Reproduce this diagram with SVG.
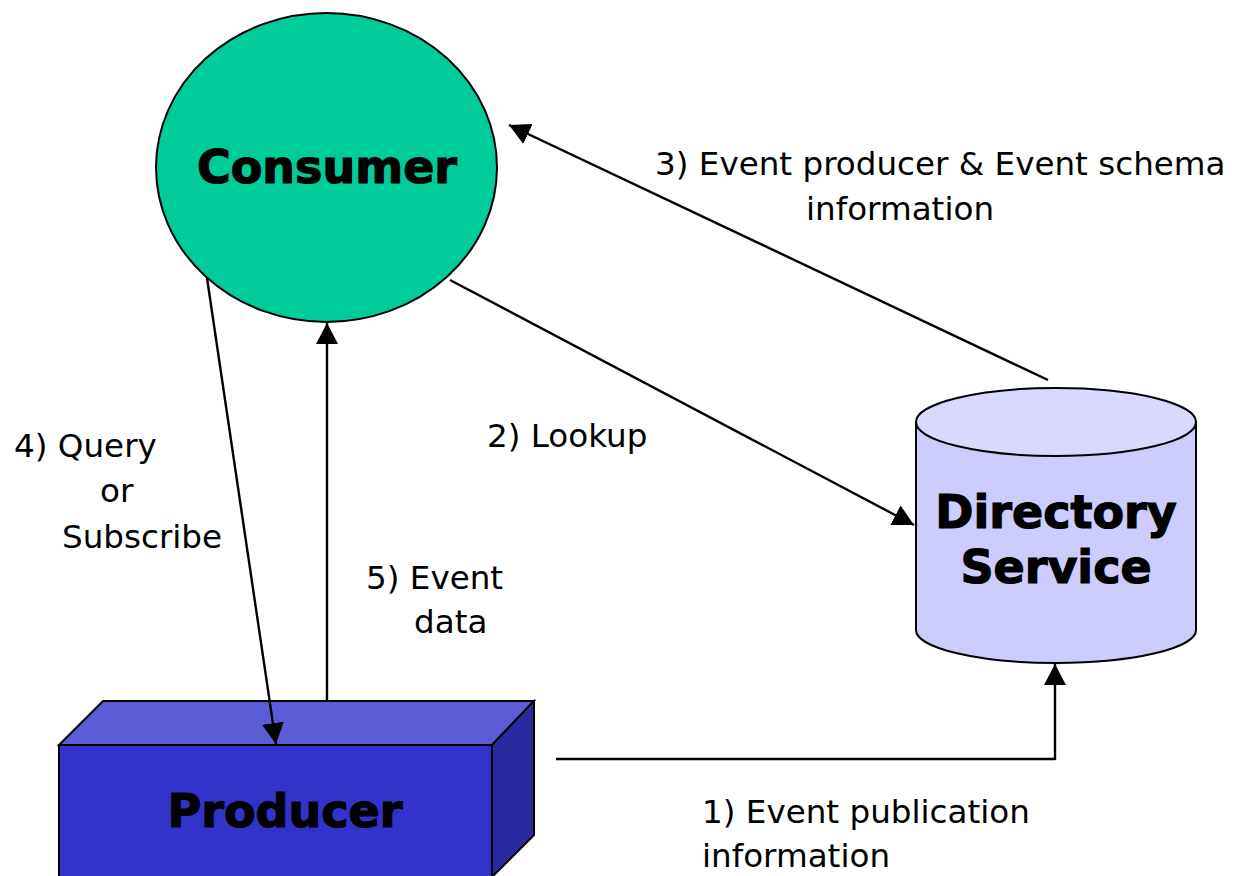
<svg xmlns="http://www.w3.org/2000/svg" width="1233" height="876" viewBox="0 0 1233 876">
<defs>
<style>
.lbl{font-family:"DejaVu Sans","Liberation Sans",sans-serif;font-size:32.6px;fill:#000}
.big{font-family:"DejaVu Sans","Liberation Sans",sans-serif;font-size:46px;font-weight:bold;fill:#000;stroke:#000;stroke-width:1.2;text-anchor:middle}
.edge{stroke:#000;stroke-width:2.4;fill:none}
.shape{stroke:#000;stroke-width:2}
</style>
<marker id="ah" viewBox="0 0 21 22" refX="21" refY="11" markerWidth="21" markerHeight="22" markerUnits="userSpaceOnUse" orient="auto">
<path d="M0,0 L21,11 L0,22 Z" fill="#000"/>
</marker>
</defs>
<rect width="1233" height="876" fill="#fff"/>
<g id="consumer">
<ellipse class="shape" cx="326.5" cy="167.5" rx="170.5" ry="154.5" fill="#00CC99"/>
<text class="big" x="327" y="183">Consumer</text>
</g>
<g id="directory">
<path class="shape" d="M916,422 L916,630 A140,33 0 0 0 1196,630 L1196,422" fill="#CCCCFF"/>
<ellipse class="shape" cx="1056" cy="422" rx="140" ry="34" fill="#D9D9FF"/>
<text class="big" x="1056" y="528">Directory</text>
<text class="big" x="1056" y="583">Service</text>
</g>
<g id="producer">
<polygon class="shape" points="59,745 103,701 534,701 492,745" fill="#5C5CD6"/>
<polygon class="shape" points="492,745 534,701 534,835 492,877" fill="#2A2AA0"/>
<rect class="shape" x="59" y="745" width="433" height="140" fill="#3333CC"/>
<text class="big" x="285" y="827">Producer</text>
</g>
<g id="connectors">
<line class="edge" x1="556" y1="759" x2="1055" y2="759"/>
<line class="edge" x1="1055" y1="760" x2="1055" y2="664" marker-end="url(#ah)"/>
<line class="edge" x1="450" y1="280" x2="914" y2="525" marker-end="url(#ah)"/>
<line class="edge" x1="1048" y1="380" x2="509" y2="125" marker-end="url(#ah)"/>
<line class="edge" x1="207" y1="278" x2="276" y2="744" marker-end="url(#ah)"/>
<line class="edge" x1="327" y1="700" x2="327" y2="323" marker-end="url(#ah)"/>
</g>
<g id="labels">
<text class="lbl" x="655" y="175">3) Event producer &amp; Event schema</text>
<text class="lbl" x="806" y="220">information</text>
<text class="lbl" x="487" y="447">2) Lookup</text>
<text class="lbl" x="14" y="457">4) Query</text>
<text class="lbl" x="100" y="502">or</text>
<text class="lbl" x="62" y="548">Subscribe</text>
<text class="lbl" x="366" y="589">5) Event</text>
<text class="lbl" x="414" y="633">data</text>
<text class="lbl" x="702" y="823">1) Event publication</text>
<text class="lbl" x="702" y="867">information</text>
</g>
</svg>
